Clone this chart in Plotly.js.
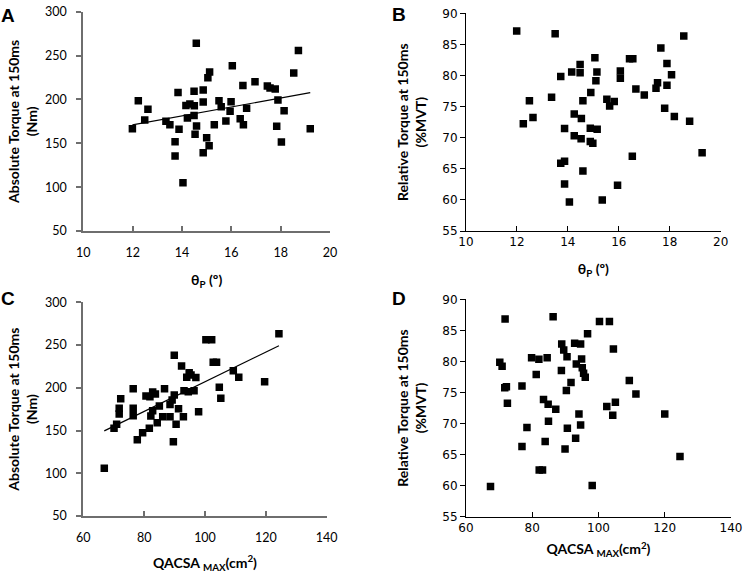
<!DOCTYPE html>
<html>
<head>
<meta charset="utf-8">
<script src="https://cdn.plot.ly/plotly-3.0.1.min.js"></script>
<style>html,body{margin:0;padding:0;background:#fff;}#chart{width:745px;height:577px;}</style>
</head>
<body>
<div id="chart"></div>
<script>
// Panel A: theta_P vs absolute torque
var thetaA = [11.99,12.23,12.49,12.62,13.35,13.51,13.72,13.72,13.84,13.88,14.04,14.22,14.16,14.32,14.5,14.49,14.49,14.58,14.59,14.53,14.86,14.86,14.86,15.0,15.1,15.05,15.12,15.31,15.5,15.59,15.78,15.95,15.99,16.04,16.36,16.49,16.47,16.62,16.96,17.46,17.57,17.78,17.84,17.89,18.03,18.14,18.53,18.72,19.2];
var absTorqueA = [166.6,198.6,176.5,188.7,175,171.2,151.8,135.5,208,165.9,105,178.8,193.2,194.8,192.9,181.8,209.2,263.9,169.7,160.2,210.7,197,139.3,156.4,147.3,224.8,231.2,171.2,198.6,191.7,175.4,186.4,197.4,238.4,178,171.2,216,189.8,220.2,215.3,213,211.9,169.3,199.3,151.4,187.2,230.1,255.9,166.6];
// Panel B: theta_P vs relative torque
var thetaB = [11.99,13.5,12.25,12.49,12.63,13.36,13.72,13.87,13.72,13.87,13.87,14.06,14.15,14.48,14.48,14.25,14.25,14.52,14.53,14.59,14.59,14.88,14.9,14.88,14.98,15.06,15.14,15.1,15.15,15.35,15.53,15.64,15.82,16.06,16.06,15.95,16.42,16.55,16.53,16.67,17.0,17.46,17.52,17.65,17.89,17.89,18.07,17.8,18.18,18.55,18.78,19.27];
var relTorqueB = [87.16,86.73,72.26,75.96,73.23,76.5,79.82,71.46,65.88,66.2,62.56,59.67,80.57,81.75,80.46,73.82,70.33,69.85,73.07,75.96,64.65,71.51,77.25,69.37,69.1,82.87,80.57,79.17,71.35,59.99,76.17,75.1,75.8,80.73,79.55,62.35,82.71,82.71,67.0,77.84,76.87,77.94,78.85,84.43,78.42,81.91,80.14,74.73,73.39,86.36,72.64,67.6];
// Panel C: QACSA_MAX vs absolute torque
var qacsaC = [66.9,70.1,70.96,72.3,71.8,71.8,76.4,76.4,76.4,77.75,79.5,81.7,80.6,81.9,82.8,83.7,82.2,82.8,84.3,85,86.1,86.7,88.5,88.5,89.2,89.9,89.9,89.6,90.5,91.3,92.3,92.9,93.1,94.5,94,94.8,95.4,96.4,97,97.9,100.3,102.2,102.7,103.8,104.7,105.2,109.3,111.1,119.6,124.3];
var absTorqueC = [105.8,152.6,157.3,187.3,176,169.3,199,176,167.4,139.3,147.5,152.6,190.4,189.6,195,192.7,167,173.2,159.2,178.7,166.2,199,166.2,180.3,185.7,191.5,238,137,157.3,175.6,225.5,166.2,196.6,195.5,212.2,217.7,215,196.6,211.9,172.1,256.3,256.3,229.8,229.8,200.5,187.7,220,212.2,207.2,263.3];
// Panel D: QACSA_MAX vs relative torque
var qacsaD = [67.4,70.2,70.9,71.8,71.7,72.2,72.5,76.9,76.9,78.4,79.8,82,84.5,81.2,83.4,84.8,87.1,83.9,84.9,82.1,83.1,86.3,88.9,89.5,90.5,88.8,91.7,90.3,90.6,89.9,92.8,94.6,93.3,94.9,95.1,95.5,96,94.1,94.6,93.1,96.7,98.1,100.3,103.3,104.5,102.5,104.3,105.1,109.3,111.3,120,124.6];
var relTorqueD = [59.85,79.86,79.22,86.83,75.78,75.94,73.26,76.05,66.29,69.35,80.61,80.34,80.61,77.88,73.85,73.1,72.3,67.1,70.36,62.53,62.53,87.21,82.81,81.85,80.77,78.52,76.59,75.3,69.24,65.91,82.92,82.81,79.59,80.4,79,78.09,77.45,71.54,69.78,67.63,84.47,60.01,86.41,86.41,82.0,72.73,71.33,73.42,76.91,74.76,71.55,64.68];

var panelLabels = ['A','B','C','D'];
var yTitleAbs = 'Absolute Torque at 150ms<br>(Nm)';
var yTitleRel = 'Relative Torque at 150ms<br>(%MVT)';
var xTitleTheta = 'θ<sub>P</sub> (º)';
var xTitleQ = 'QACSA <sub>MAX</sub>(cm<sup>2</sup>)';

function fit(xs, ys) {
  var n = xs.length, sx = 0, sy = 0, sxx = 0, sxy = 0;
  for (var i = 0; i < n; i++) { sx += xs[i]; sy += ys[i]; sxx += xs[i]*xs[i]; sxy += xs[i]*ys[i]; }
  var b = (n*sxy - sx*sy) / (n*sxx - sx*sx);
  var a = (sy - b*sx) / n;
  var x0 = Math.min.apply(null, xs), x1 = Math.max.apply(null, xs);
  return {x: [x0, x1], y: [a + b*x0, a + b*x1]};
}

var mk = {symbol: 'square', size: 7.5, color: '#000'};
function pts(x, y, xa, ya) {
  return {type: 'scatter', mode: 'markers', x: x, y: y, xaxis: xa, yaxis: ya, marker: mk, hoverinfo: 'skip'};
}
function trend(x, y, xa, ya) {
  var f = fit(x, y);
  return {type: 'scatter', mode: 'lines', x: f.x, y: f.y, xaxis: xa, yaxis: ya, line: {color: '#000', width: 1.2}, hoverinfo: 'skip'};
}

var data = [
  pts(thetaA, absTorqueA, 'x', 'y'), trend(thetaA, absTorqueA, 'x', 'y'),
  pts(thetaB, relTorqueB, 'x2', 'y2'),
  pts(qacsaC, absTorqueC, 'x3', 'y3'), trend(qacsaC, absTorqueC, 'x3', 'y3'),
  pts(qacsaD, relTorqueD, 'x4', 'y4')
];

var tickA = {family: 'Lato, sans-serif', size: 12.5, color: '#000'};
var tickB = {family: 'DejaVu Sans, sans-serif', size: 12, color: '#000'};
var titleFont = {family: 'Lato, sans-serif', size: 14, color: '#000', weight: 'bold'};

function xax(dom, anchor, rng, dt, tf, lc, lw, title, lblOff, stand) {
  return {domain: dom, anchor: anchor, range: rng, dtick: dt, tick0: rng[0], showgrid: false, zeroline: false,
    showline: true, linecolor: lc, linewidth: lw, ticks: 'inside', ticklen: 5, tickcolor: lc, tickwidth: lw,
    ticklabelstandoff: lblOff,
    tickfont: tf, title: {text: title, font: titleFont, standoff: stand}, automargin: false, fixedrange: true};
}
function yax(dom, anchor, rng, dt, tf, lc, lw, title, lblOff, stand) {
  return {domain: dom, anchor: anchor, range: rng, dtick: dt, tick0: rng[0], showgrid: false, zeroline: false,
    showline: true, linecolor: lc, linewidth: lw, ticks: 'outside', ticklen: 5, tickcolor: lc, tickwidth: lw,
    ticklabelstandoff: lblOff,
    tickfont: tf, title: {text: title, font: titleFont, standoff: stand}, automargin: false, fixedrange: true};
}

var W = 745, H = 577;
function px(v) { return v / W; }
function py(v) { return 1 - v / H; }

var layout = {
  width: W, height: H, margin: {l: 0, r: 0, t: 0, b: 0}, showlegend: false,
  paper_bgcolor: '#fff', plot_bgcolor: '#fff',
  xaxis:  xax([px(83.3), px(330)], 'y', [10, 20], 2, tickA, '#6e6e6e', 2, xTitleTheta, 9, 16),
  yaxis:  yax([py(231), py(11.7)], 'x', [50, 300], 50, tickA, '#6e6e6e', 2, yTitleAbs, 7, 4),
  xaxis2: xax([px(466), px(720.7)], 'y2', [10, 20], 2, tickB, '#000', 1, xTitleTheta, 0, 15),
  yaxis2: yax([py(231), py(13.3)], 'x2', [55, 90], 5, tickB, '#000', 1, yTitleRel, 0, 12),
  xaxis3: xax([px(83.3), px(326.7)], 'y3', [60, 140], 20, tickA, '#6e6e6e', 2, xTitleQ, 9, 14),
  yaxis3: yax([py(516), py(302.3)], 'x3', [50, 300], 50, tickA, '#6e6e6e', 2, yTitleAbs, 7, 4),
  xaxis4: xax([px(466), px(731)], 'y4', [60, 140], 20, tickB, '#000', 1, xTitleQ, 0, 10),
  yaxis4: yax([py(516.7), py(299.3)], 'x4', [55, 90], 5, tickB, '#000', 1, yTitleRel, 0, 12),
  annotations: [
    {text: '<b>' + panelLabels[0] + '</b>', x: px(8), y: py(15), xanchor: 'center', yanchor: 'middle', xref: 'paper', yref: 'paper', showarrow: false, font: {family: 'Liberation Sans, Arial, sans-serif', size: 19, color: '#000'}},
    {text: '<b>' + panelLabels[1] + '</b>', x: px(399), y: py(14), xanchor: 'center', yanchor: 'middle', xref: 'paper', yref: 'paper', showarrow: false, font: {family: 'Liberation Sans, Arial, sans-serif', size: 19, color: '#000'}},
    {text: '<b>' + panelLabels[2] + '</b>', x: px(8), y: py(298), xanchor: 'center', yanchor: 'middle', xref: 'paper', yref: 'paper', showarrow: false, font: {family: 'Liberation Sans, Arial, sans-serif', size: 19, color: '#000'}},
    {text: '<b>' + panelLabels[3] + '</b>', x: px(399), y: py(298), xanchor: 'center', yanchor: 'middle', xref: 'paper', yref: 'paper', showarrow: false, font: {family: 'Liberation Sans, Arial, sans-serif', size: 19, color: '#000'}}
  ]
};

Plotly.newPlot('chart', data, layout, {staticPlot: true, displayModeBar: false});
</script>
</body>
</html>
